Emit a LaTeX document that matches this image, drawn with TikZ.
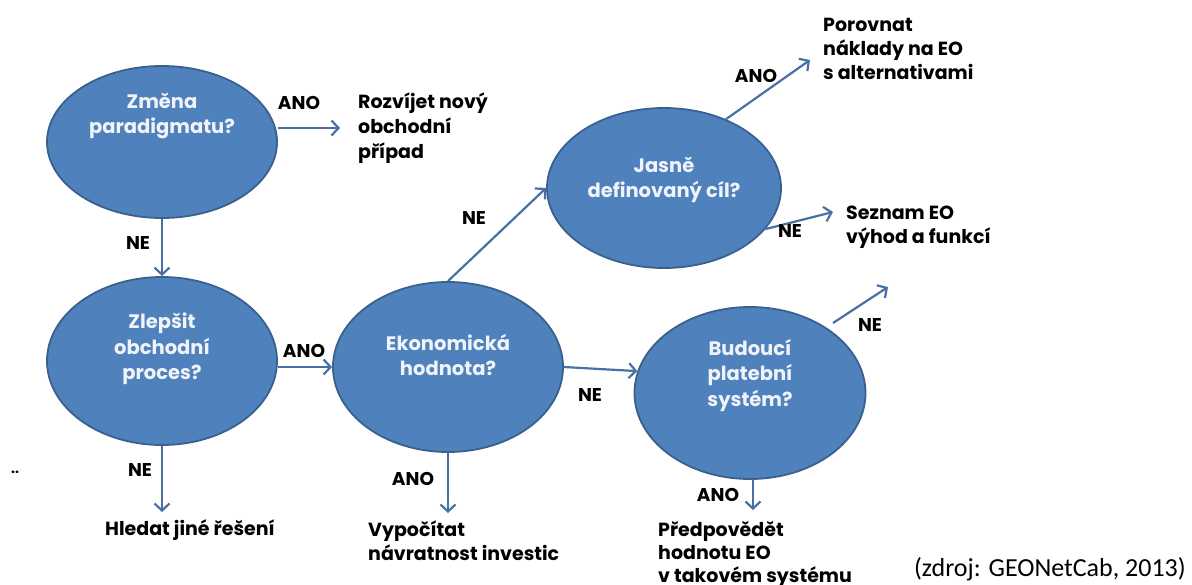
\documentclass[tikz,border=0pt]{standalone}
\usepackage{fontspec}
\setmainfont{Poppins}
\newfontfamily\srcfont{Carlito}
\usetikzlibrary{shapes.geometric,arrows.meta}
\definecolor{eofill}{RGB}{79,129,189}
\definecolor{eodraw}{RGB}{58,96,142}
\definecolor{arrowc}{RGB}{72,112,165}
\definecolor{etext}{RGB}{240,244,250}
\begin{document}
\begin{tikzpicture}[x=1pt,y=-1pt,
  decision/.style={ellipse, fill=eofill, draw=eodraw, line width=1.8pt, inner sep=0pt},
  qtext/.style={text=etext, font=\fontsize{19.5}{25.5}\selectfont\bfseries, align=center, inner sep=0pt},
  otext/.style={font=\fontsize{19}{24}\selectfont\bfseries, align=left, anchor=base west, inner sep=0pt},
  lbl/.style={font=\fontsize{18.5}{20}\selectfont\bfseries, inner sep=0pt},
  conn/.style={draw=arrowc, line width=2.2pt, -{Straight Barb[length=7pt,width=15pt,line width=2.2pt]}},
]
\useasboundingbox (0,0) rectangle (1192,584);

% decisions
\node[decision, minimum width=230pt, minimum height=152pt] (e1) at (162,142) {};
\node[decision, minimum width=230pt, minimum height=168pt] (e2) at (162,361) {};
\node[decision, minimum width=230pt, minimum height=170pt] (e3) at (448,367) {};
\node[decision, minimum width=234pt, minimum height=160pt] (e4) at (664,188) {};
\node[decision, minimum width=231pt, minimum height=172pt] (e5) at (750,393) {};

\node[qtext] (q1) at (162,116) {Změna\\paradigmatu?};
\node[qtext] (q2) at (162,349) {Zlepšit\\obchodní\\proces?};
\node[qtext] (q3) at (448,355) {Ekonomická\\hodnota?};
\node[qtext] (q4) at (664,180) {Jasně\\definovaný cíl?};
\node[qtext] (q5) at (750,375) {Budoucí\\platební\\systém?};

% outcomes (anchor = baseline of last line)
\node[otext] (o1) at (358,158) {Rozvíjet nový\\[1pt]obchodní\\[1pt]případ};
\node[otext] (o2) at (105,535) {Hledat jiné řešení};
\node[otext] (o3) at (368,560) {Vypočítat\\návratnost investic};
\node[otext] (o4) at (823,79) {Porovnat\\náklady na EO\\s alternativami};
\node[otext] (o5) at (846,243) {Seznam EO\\výhod a funkcí};
\node[otext] (o6) at (658,582) {Předpovědět\\[-1pt]hodnotu EO\\[-1pt]v takovém systému};

% free ends
\coordinate (a1) at (340,128);
\coordinate (a2) at (162,512);
\coordinate (a3) at (448,513);
\coordinate (a4) at (810,60);
\coordinate (a5) at (833,212);
\coordinate (a6) at (888,287);
\coordinate (a7) at (753,510);
\coordinate (s5) at (753,479);
\coordinate (s6) at (833,323);

% connectors
\draw[conn] (e1.east |- a1) -- (a1);
\draw[conn] (e1.south) -- (e2.north);
\draw[conn] (e3.west -| e2.east) -- (e3.west);
\draw[conn] (e2.south) -- (a2);
\draw[conn] (e3.north) -- (e4.west);
\draw[conn] (e3.east) -- (e5.169);
\draw[conn] (e3.south) -- (a3);
\draw[conn] (e4.48) -- (a4);
\draw[conn] (e4.-22) -- (a5);
\draw[conn] (s6) -- (a6);
\draw[conn] (s5) -- (a7);

% labels
\node[lbl] (l1) at (299,103) {ANO};
\node[lbl] (l2) at (138,243) {NE};
\node[lbl] (l3) at (304,351) {ANO};
\node[lbl] (l4) at (140,470) {NE};
\node[lbl] (l5) at (474,218) {NE};
\node[lbl] (l6) at (590,395) {NE};
\node[lbl] (l7) at (413,479) {ANO};
\node[lbl] (l8) at (756,76) {ANO};
\node[lbl] (l9) at (790,231) {NE};
\node[lbl] (l10) at (870,325) {NE};
\node[lbl] (l11) at (718,495) {ANO};

\node[font=\fontsize{14}{14}\selectfont\bfseries, inner sep=0pt] (dots) at (15,472) {..};
\node[font=\srcfont\fontsize{26}{28}\selectfont, anchor=base east, inner sep=0pt] (src) at (1186,576) {(zdroj: GEONetCab, 2013)};
\end{tikzpicture}
\end{document}
